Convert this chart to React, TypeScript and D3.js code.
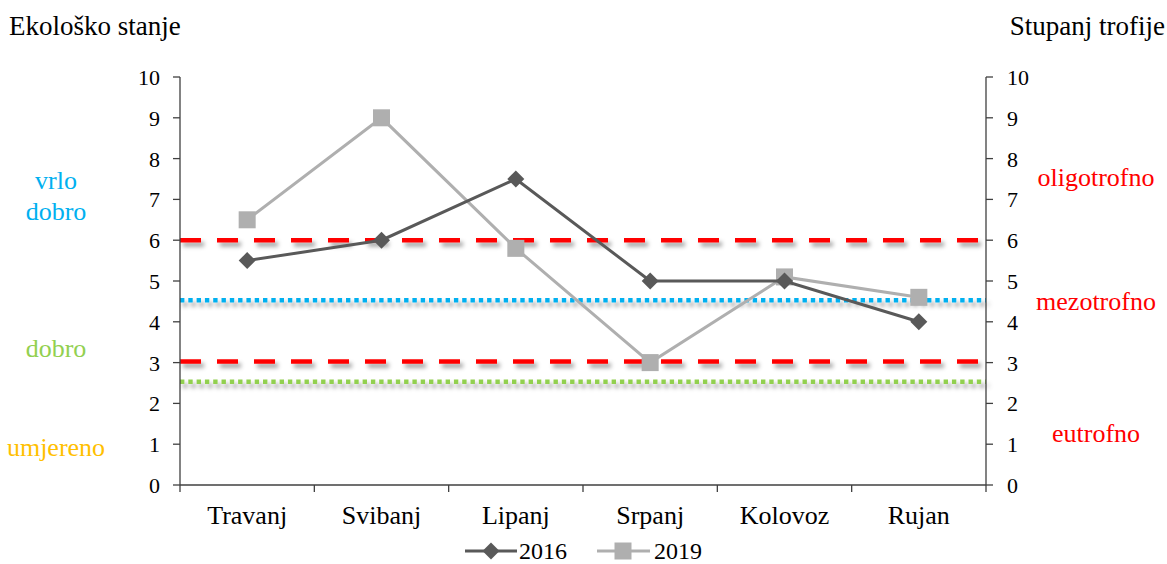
import React from "react";
import * as d3 from "d3";

const months = ["Travanj", "Svibanj", "Lipanj", "Srpanj", "Kolovoz", "Rujan"];
const values2016 = [5.5, 6, 7.5, 5, 5, 4];
const values2019 = [6.5, 9, 5.8, 3, 5.1, 4.6];
const yTicks = [0, 1, 2, 3, 4, 5, 6, 7, 8, 9, 10];
const refLines = [
  { value: 6.0, color: "#FF0000", kind: "dash" },
  { value: 4.53, color: "#00B0F0", kind: "dot" },
  { value: 3.03, color: "#FF0000", kind: "dash" },
  { value: 2.53, color: "#92D050", kind: "dot" },
];
const leftLabels = [
  { lines: ["vrlo", "dobro"], y: 7.25, color: "#00B0F0" },
  { lines: ["dobro"], y: 3.13, color: "#92D050" },
  { lines: ["umjereno"], y: 0.7, color: "#FFC000" },
];
const rightLabels = [
  { text: "oligotrofno", y: 7.33, color: "#FF0000" },
  { text: "mezotrofno", y: 4.28, color: "#FF0000" },
  { text: "eutrofno", y: 1.05, color: "#FF0000" },
];

export default function App() {
  const W = 1167, H = 564;
  const left = 180, right = 986, top = 77, bottom = 485;
  const x = d3.scaleBand<string>().domain(months).range([left, right]);
  const y = d3.scaleLinear().domain([0, 10]).range([bottom, top]);
  const cx = (m: string) => (x(m) as number) + x.bandwidth() / 2;
  const line = d3.line<number>().x((_, i) => cx(months[i])).y((d) => y(d));
  const font = "'Liberation Serif', 'Times New Roman', serif";
  const c16 = "#595959", c19 = "#AFAFAF";
  const axisC = "#404040";
  const diamond = (px: number, py: number, r = 8.5) =>
    `M${px},${py - r}L${px + r},${py}L${px},${py + r}L${px - r},${py}Z`;

  return (
    <svg width={W} height={H} style={{ position: "absolute", left: 0, top: 0 }} fontFamily={font}>
      <defs>
        <filter id="sh" filterUnits="userSpaceOnUse" x={0} y={0} width={W} height={H}>
          <feGaussianBlur in="SourceAlpha" stdDeviation="2" result="b" />
          <feOffset in="b" dx="3" dy="4" result="o" />
          <feFlood floodColor="#000" floodOpacity="0.38" />
          <feComposite in2="o" operator="in" result="s" />
          <feMerge>
            <feMergeNode in="s" />
            <feMergeNode in="SourceGraphic" />
          </feMerge>
        </filter>
      </defs>
      <rect width={W} height={H} fill="#fff" />
      <text x={9} y={35} fontSize={27} fill="#000">Ekološko stanje</text>
      <text x={1165} y={35} fontSize={27} fill="#000" textAnchor="end">Stupanj trofije</text>

      {/* reference lines */}
      {refLines.map((r, i) => (
        <line key={i} x1={left} x2={right} y1={y(r.value)} y2={y(r.value)}
          stroke={r.color} strokeWidth={4.5}
          strokeDasharray={r.kind === "dash" ? "21 16" : "4.4 3.9"}
          filter="url(#sh)" />
      ))}

      {/* axes */}
      <line x1={left} x2={left} y1={top} y2={bottom} stroke={axisC} strokeWidth={1.3} />
      <line x1={right} x2={right} y1={top} y2={bottom} stroke={axisC} strokeWidth={1.3} />
      <line x1={left} x2={right} y1={bottom} y2={bottom} stroke={axisC} strokeWidth={1.3} />
      {yTicks.map((t) => (
        <g key={t}>
          <line x1={left - 7} x2={left} y1={y(t)} y2={y(t)} stroke={axisC} strokeWidth={1.3} />
          <line x1={right} x2={right + 7} y1={y(t)} y2={y(t)} stroke={axisC} strokeWidth={1.3} />
          <text x={left - 20} y={y(t) + 8} fontSize={22} textAnchor="end">{t}</text>
          <text x={right + 21} y={y(t) + 8} fontSize={22}>{t}</text>
        </g>
      ))}
      {months.map((m) => (
        <g key={m}>
          <line x1={x(m)} x2={x(m)} y1={bottom} y2={bottom + 7} stroke={axisC} strokeWidth={1.3} />
          <text x={cx(m)} y={bottom + 39} fontSize={26} textAnchor="middle">{m}</text>
        </g>
      ))}
      <line x1={right} x2={right} y1={bottom} y2={bottom + 7} stroke={axisC} strokeWidth={1.3} />

      {/* side labels */}
      {leftLabels.map((l, i) => (
        <text key={i} x={56} y={y(l.y)} fontSize={26} fill={l.color} textAnchor="middle">
          {l.lines.map((s, j) => (
            <tspan key={j} x={56} dy={j === 0 ? 0 : 31}>{s}</tspan>
          ))}
        </text>
      ))}
      {rightLabels.map((l, i) => (
        <text key={i} x={1096} y={y(l.y)} fontSize={26} fill={l.color} textAnchor="middle">{l.text}</text>
      ))}

      {/* series */}
      <path d={line(values2019) as string} fill="none" stroke={c19} strokeWidth={3} />
      {values2019.map((v, i) => (
        <rect key={i} x={cx(months[i]) - 8.5} y={y(v) - 8.5} width={17} height={17} fill={c19} />
      ))}
      <path d={line(values2016) as string} fill="none" stroke={c16} strokeWidth={3} />
      {values2016.map((v, i) => (
        <path key={i} d={diamond(cx(months[i]), y(v))} fill={c16} />
      ))}

      {/* legend */}
      <line x1={465} x2={517} y1={551} y2={551} stroke={c16} strokeWidth={3} />
      <path d={diamond(491, 551)} fill={c16} />
      <text x={519} y={559} fontSize={24}>2016</text>
      <line x1={597} x2={650} y1={551} y2={551} stroke={c19} strokeWidth={3} />
      <rect x={614.5} y={542.5} width={17} height={17} fill={c19} />
      <text x={654} y={559} fontSize={24}>2019</text>
    </svg>
  );
}
